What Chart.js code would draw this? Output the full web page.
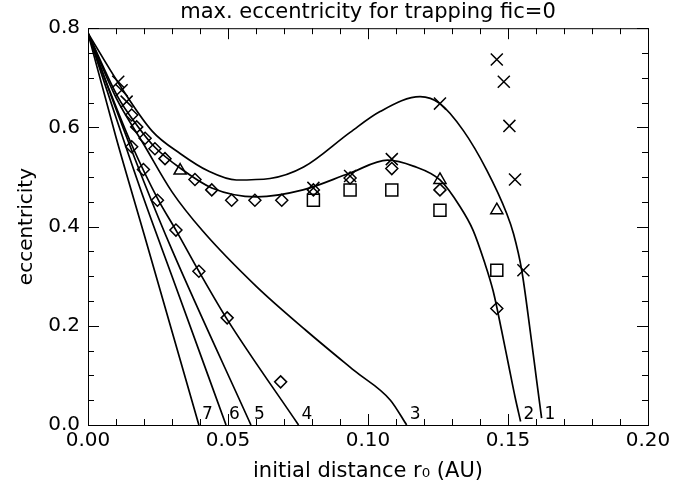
<!DOCTYPE html>
<html>
<head>
<meta charset="utf-8">
<script src="https://cdn.jsdelivr.net/npm/chart.js@4.4.1/dist/chart.umd.min.js"></script>
<style>
  html, body { margin: 0; padding: 0; background: #fff; }
</style>
</head>
<body>
<canvas id="eccChart" width="697" height="490"></canvas>
<script>
// trapping limit curves 1..7 (r0 in AU, eccentricity)
const curve1 = [[0,0.79],[0.0108,0.69],[0.023,0.592],[0.033,0.547],[0.043,0.512],[0.053,0.494],[0.065,0.497],
  [0.077,0.52],[0.0936,0.59],[0.1043,0.632],[0.1186,0.662],[0.1257,0.648],[0.134,0.594],[0.1424,0.514],
  [0.1495,0.427],[0.152,0.385],[0.1549,0.312],[0.1579,0.191],[0.1602,0.091],[0.162,0.014]];
const curve2 = [[0,0.79],[0.0108,0.66],[0.0174,0.605],[0.0239,0.56],[0.0329,0.518],[0.0442,0.478],[0.0602,0.46],
  [0.0768,0.474],[0.0936,0.508],[0.107,0.534],[0.1162,0.522],[0.1257,0.494],[0.1329,0.44],[0.1375,0.393],
  [0.1415,0.33],[0.1447,0.27],[0.1477,0.191],[0.1501,0.124],[0.1525,0.057],[0.1545,0.007]];
const curve3 = [[0,0.79],[0.01,0.66],[0.02,0.565],[0.03,0.47],[0.041,0.391],[0.06,0.28],[0.078,0.19],
  [0.095,0.11],[0.108,0.05],[0.1138,0]];
const curve4 = [[0,0.79],[0.008,0.67],[0.0156,0.565],[0.025,0.455],[0.0314,0.393],[0.0396,0.31],[0.0497,0.213],[0.0752,0]];
const curve5 = [[0,0.79],[0.01,0.637],[0.02,0.49],[0.03,0.353],[0.0582,0]];
const curve6 = [[0,0.79],[0.01,0.62],[0.02,0.455],[0.03,0.30],[0.0493,0]];
const curve7 = [[0,0.79],[0.01,0.58],[0.02,0.385],[0.0396,0]];
const curveNames = ['1','2','3','4','5','6','7'];

// measured points
const crosses = [[0.0108,0.692],[0.012,0.675],[0.0138,0.652],[0.0805,0.478],[0.0936,0.502],[0.1085,0.536],
  [0.1257,0.648],[0.146,0.737],[0.1485,0.692],[0.1505,0.603],[0.1525,0.495],[0.1555,0.312]];
const diamonds = [[0.0156,0.625],[0.0174,0.601],[0.0204,0.578],[0.0239,0.557],[0.0275,0.537],[0.0382,0.495],
  [0.0442,0.474],[0.0513,0.453],[0.0596,0.453],[0.0692,0.453],[0.0805,0.474],[0.0936,0.498],[0.1085,0.517],
  [0.1257,0.474],[0.146,0.235],
  [0.0156,0.561],[0.0198,0.515],[0.0248,0.453],[0.0314,0.393],[0.0396,0.31],[0.0497,0.216],[0.0688,0.087]];
const squares = [[0.0805,0.453],[0.0936,0.474],[0.1085,0.474],[0.1257,0.433],[0.146,0.312]];
const triangles = [[0.0329,0.513],[0.1257,0.494],[0.146,0.433]];

const FONT = 'DejaVu Sans';
const toXY = arr => arr.map(p => ({x: p[0], y: p[1]}));

const curves = [curve1, curve2, curve3, curve4, curve5, curve6, curve7];
const lineSets = curves.map((c, i) => ({
  label: 'curve ' + curveNames[i],
  data: toXY(c),
  showLine: true,
  borderColor: '#000',
  borderWidth: 1.7,
  pointRadius: 0,
  fill: false,
  cubicInterpolationMode: 'monotone'
}));

function markerSet(name, pts, style, r) {
  return {
    label: name,
    data: toXY(pts),
    showLine: false,
    pointStyle: style,
    pointRadius: r,
    pointBorderWidth: 1.5,
    borderColor: '#000',
    backgroundColor: 'rgba(0,0,0,0)'
  };
}

// inward ticks, frame and curve numbers, IDL style
const idlFrame = {
  id: 'idlFrame',
  afterDraw(chart) {
    const {ctx, chartArea: a, scales: {x, y}} = chart;
    ctx.save();
    ctx.strokeStyle = '#000';
    ctx.lineWidth = 1;
    ctx.strokeRect(a.left + 0.5, a.top + 0.5, a.right - a.left, a.bottom - a.top);
    ctx.beginPath();
    x.ticks.forEach(t => {
      const px = Math.round(x.getPixelForValue(t.value)) + 0.5;
      const len = Math.round(t.value * 100) % 5 === 0 ? 11 : 6;
      ctx.moveTo(px, a.bottom); ctx.lineTo(px, a.bottom - len);
      ctx.moveTo(px, a.top); ctx.lineTo(px, a.top + len);
    });
    y.ticks.forEach(t => {
      const py = Math.round(y.getPixelForValue(t.value)) + 0.5;
      const len = Math.round(t.value * 20) % 4 === 0 ? 11 : 6;
      ctx.moveTo(a.left, py); ctx.lineTo(a.left + len, py);
      ctx.moveTo(a.right, py); ctx.lineTo(a.right - len, py);
    });
    ctx.stroke();
    ctx.fillStyle = '#000';
    ctx.font = '17px "' + FONT + '"';
    ctx.textBaseline = 'middle';
    ctx.textAlign = 'left';
    curves.forEach((c, i) => {
      const end = c[c.length - 1];
      ctx.fillText(curveNames[i], x.getPixelForValue(end[0]) + 3, y.getPixelForValue(0) - 10);
    });
    ctx.restore();
  }
};

new Chart(document.getElementById('eccChart'), {
  type: 'scatter',
  data: {
    datasets: [
      ...lineSets,
      markerSet('x', crosses, 'crossRot', 8.5),
      markerSet('diamond', diamonds, 'rectRot', 6),
      markerSet('square', squares, 'rect', 8.5),
      markerSet('triangle', triangles, 'triangle', 7)
    ]
  },
  options: {
    responsive: false,
    animation: false,
    layout: { padding: { left: 0, right: 49, top: 0, bottom: 0 } },
    plugins: {
      legend: { display: false },
      tooltip: { enabled: false },
      title: {
        display: true,
        fullSize: false,
        text: 'max. eccentricity for trapping fic=0',
        color: '#000',
        font: { family: FONT, size: 21, weight: 'normal' },
        padding: { top: 0, bottom: 3 }
      }
    },
    scales: {
      x: {
        type: 'linear',
        min: 0, max: 0.2,
        grid: { display: false, drawTicks: false },
        border: { display: false },
        ticks: {
          stepSize: 0.01,
          autoSkip: false,
          maxRotation: 0,
          padding: 4,
          color: '#000',
          font: { family: FONT, size: 20 },
          callback: v => Math.round(v * 100) % 5 === 0 ? v.toFixed(2) : ''
        },
        title: {
          display: true,
          text: 'initial distance r\u2080 (AU)',
          color: '#000',
          font: { family: FONT, size: 21 },
          padding: { top: 0, bottom: 6 }
        },
        afterFit: s => { s.height = 65; }
      },
      y: {
        type: 'linear',
        min: 0, max: 0.8,
        grid: { display: false, drawTicks: false },
        border: { display: false },
        ticks: {
          stepSize: 0.05,
          autoSkip: false,
          align: 'inner',
          padding: 8,
          color: '#000',
          font: { family: FONT, size: 20 },
          callback: v => Math.round(v * 20) % 4 === 0 ? v.toFixed(1) : ''
        },
        title: {
          display: true,
          text: 'eccentricity',
          color: '#000',
          font: { family: FONT, size: 20 },
          padding: { top: 15, bottom: 0 }
        },
        afterFit: s => { s.width = 88; }
      }
    }
  },
  plugins: [idlFrame]
});
</script>
</body>
</html>
